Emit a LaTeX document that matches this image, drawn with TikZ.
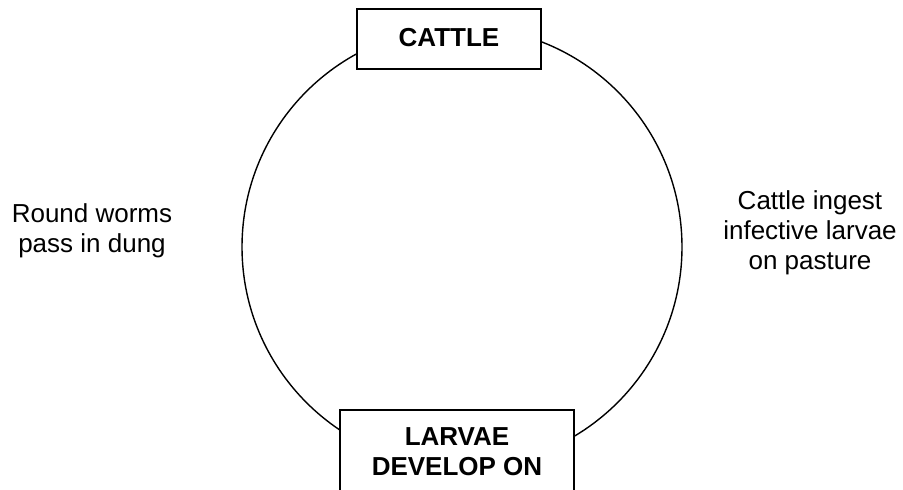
\documentclass[tikz,border=0pt]{standalone}
\usepackage{fontspec}
\setmainfont{Liberation Sans}
\begin{document}
\begin{tikzpicture}[x=1pt,y=-1pt,
  every node/.style={font=\fontsize{26}{30}\selectfont},
  boxnode/.style={draw, line width=1.7pt, fill=white, inner sep=0pt, font=\fontsize{26}{30}\selectfont\bfseries},
  ringnode/.style={circle, draw, line width=1.4pt, inner sep=0pt},
  caption/.style={align=center, anchor=base, inner sep=0pt}]
\useasboundingbox (0,0) rectangle (903,490);
\clip (0,0) rectangle (903,490);
\node[ringnode, minimum size=440pt] (ring) at (462,247) {};
\node[boxnode, minimum width=184pt, minimum height=60pt, text height=18.6pt, text depth=4.6pt] (cattle) at (449,39) {CATTLE};
\node[boxnode, minimum width=234pt, minimum height=110pt, anchor=north] (larvae) at (457,409) {};
\node[caption, font=\fontsize{26}{30}\selectfont\bfseries] (larvaetext) at (457,475) {LARVAE\\DEVELOP ON};
\node[caption] (left) at (92,252) {Round worms\\pass in dung};
\node[caption] (right) at (810,269) {Cattle ingest\\infective larvae\\on pasture};
\end{tikzpicture}
\end{document}
